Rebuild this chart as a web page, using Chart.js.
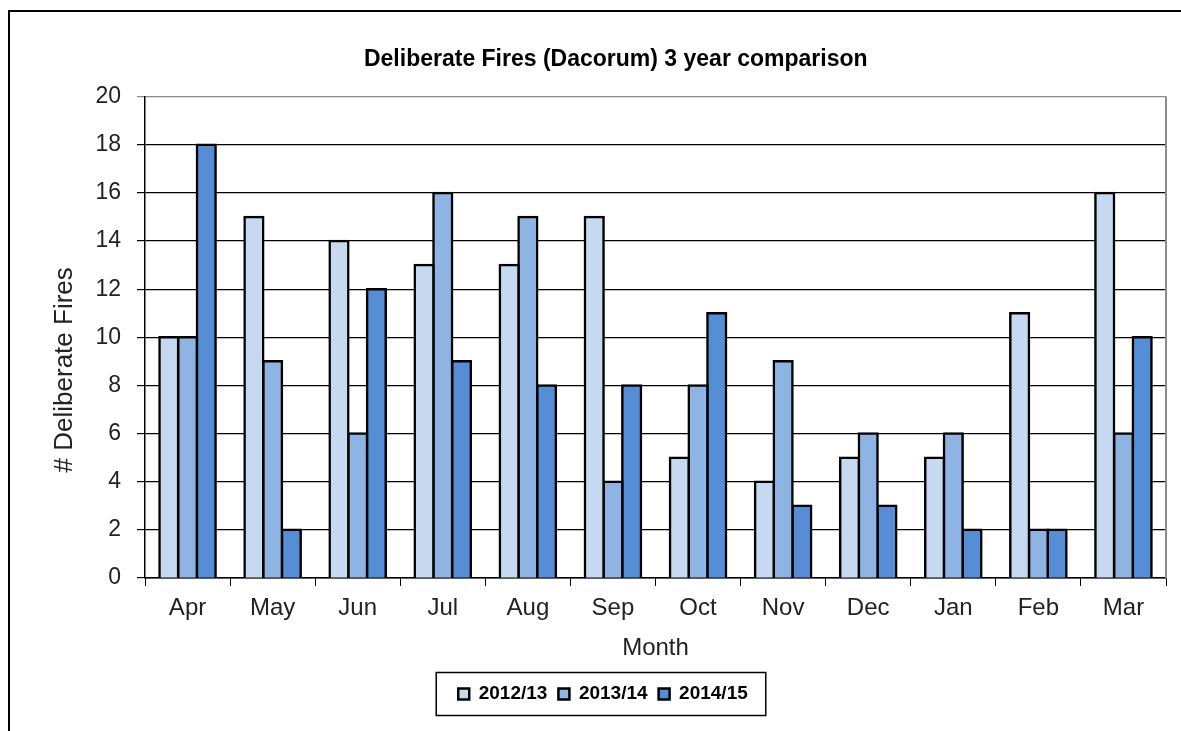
<!DOCTYPE html>
<html>
<head>
<meta charset="utf-8">
<script src="https://cdn.jsdelivr.net/npm/chart.js@4.4.0/dist/chart.umd.min.js"></script>
<style>
  body { margin: 0; background: #fff; }
  #wrap { position: relative; width: 1181px; height: 731px; }
  #frame { position: absolute; left: 8px; top: 10px; width: 1200px; height: 760px; border: 2px solid #000; box-sizing: border-box; pointer-events: none; }
</style>
</head>
<body>
<div id="wrap">
  <canvas id="fires" width="1181" height="731"></canvas>
  <div id="frame"></div>
</div>
<script>
const months = ['Apr', 'May', 'Jun', 'Jul', 'Aug', 'Sep', 'Oct', 'Nov', 'Dec', 'Jan', 'Feb', 'Mar'];
const fires1213 = [10, 15, 14, 13, 13, 15, 5, 4, 5, 5, 11, 16];
const fires1314 = [10, 9, 6, 16, 15, 4, 8, 9, 6, 6, 2, 6];
const fires1415 = [18, 2, 12, 9, 8, 8, 11, 3, 3, 2, 2, 10];

const font = 'Arial, "Liberation Sans", sans-serif';
const nb = '\u00a0';

// box round the legend + grey right edge of the plot, like the spreadsheet
const extras = {
  id: 'extras',
  afterDraw(chart) {
    const c = chart.ctx;
    const a = chart.chartArea;
    c.save();
    c.strokeStyle = '#8c8c8c';
    c.lineWidth = 2;
    c.beginPath();
    c.moveTo(a.right, a.top);
    c.lineTo(a.right, a.bottom);
    c.stroke();
    const hb = chart.legend.legendHitBoxes;
    if (hb.length) {
      const first = hb[0], last = hb[hb.length - 1];
      c.strokeStyle = '#000';
      c.lineWidth = 1.5;
      c.strokeRect(first.left - 22, first.top - 12, (last.left + last.width + 18) - (first.left - 22), first.height + 24);
    }
    c.restore();
  }
};

const ctx = document.getElementById('fires').getContext('2d');
const chart = new Chart(ctx, {
  type: 'bar',
  data: {
    labels: months,
    datasets: [
      { label: '2012/13', data: fires1213, backgroundColor: '#c6d9f1' },
      { label: '2013/14', data: fires1314, backgroundColor: '#8eb4e3' },
      { label: '2014/15', data: fires1415, backgroundColor: '#558ed5' }
    ]
  },
  options: {
    responsive: false,
    animation: false,
    layout: { padding: { left: 40, right: 15, top: 0, bottom: 17.5 } },
    datasets: { bar: { categoryPercentage: 0.66, barPercentage: 1.0, borderColor: '#000', borderWidth: 2.5, inflateAmount: 1.25 } },
    plugins: {
      title: {
        display: true,
        text: nb.repeat(4) + 'Deliberate Fires (Dacorum) 3 year comparison',
        color: '#000',
        font: { family: font, size: 23, weight: 'bold' },
        padding: { top: 46, bottom: 23 }
      },
      legend: {
        position: 'bottom',
        labels: {
          color: '#000',
          font: { family: font, size: 19, weight: 'bold' },
          boxWidth: 11,
          boxHeight: 11,
          padding: 11
        }
      },
      tooltip: { enabled: false }
    },
    scales: {
      x: {
        grid: { display: true, drawOnChartArea: false, offset: true, color: '#000', tickLength: 8, tickWidth: 1 },
        border: { color: '#000', width: 1.5 },
        ticks: { color: '#222', font: { family: font, size: 24 }, padding: 8, maxRotation: 0 },
        title: { display: true, text: 'Month', color: '#222', font: { family: font, size: 24 }, padding: { top: 0, bottom: 11 } },
        afterFit(scale) { scale.height = 95.5; }
      },
      y: {
        min: 0,
        max: 20,
        ticks: { stepSize: 2, color: '#222', font: { family: font, size: 23 }, padding: 16 },
        grid: { color: c => c.tick && c.tick.value === 20 ? '#8c8c8c' : '#000', lineWidth: 1.2, tickLength: 8 },
        border: { color: '#000', width: 1.5 },
        title: { display: true, text: '# Deliberate Fires' + nb.repeat(9), color: '#222', font: { family: font, size: 26 }, padding: { top: 9, bottom: 0 } },
        afterFit(scale) { scale.width = 105; }
      }
    }
  },
  plugins: [extras]
});
</script>
</body>
</html>
